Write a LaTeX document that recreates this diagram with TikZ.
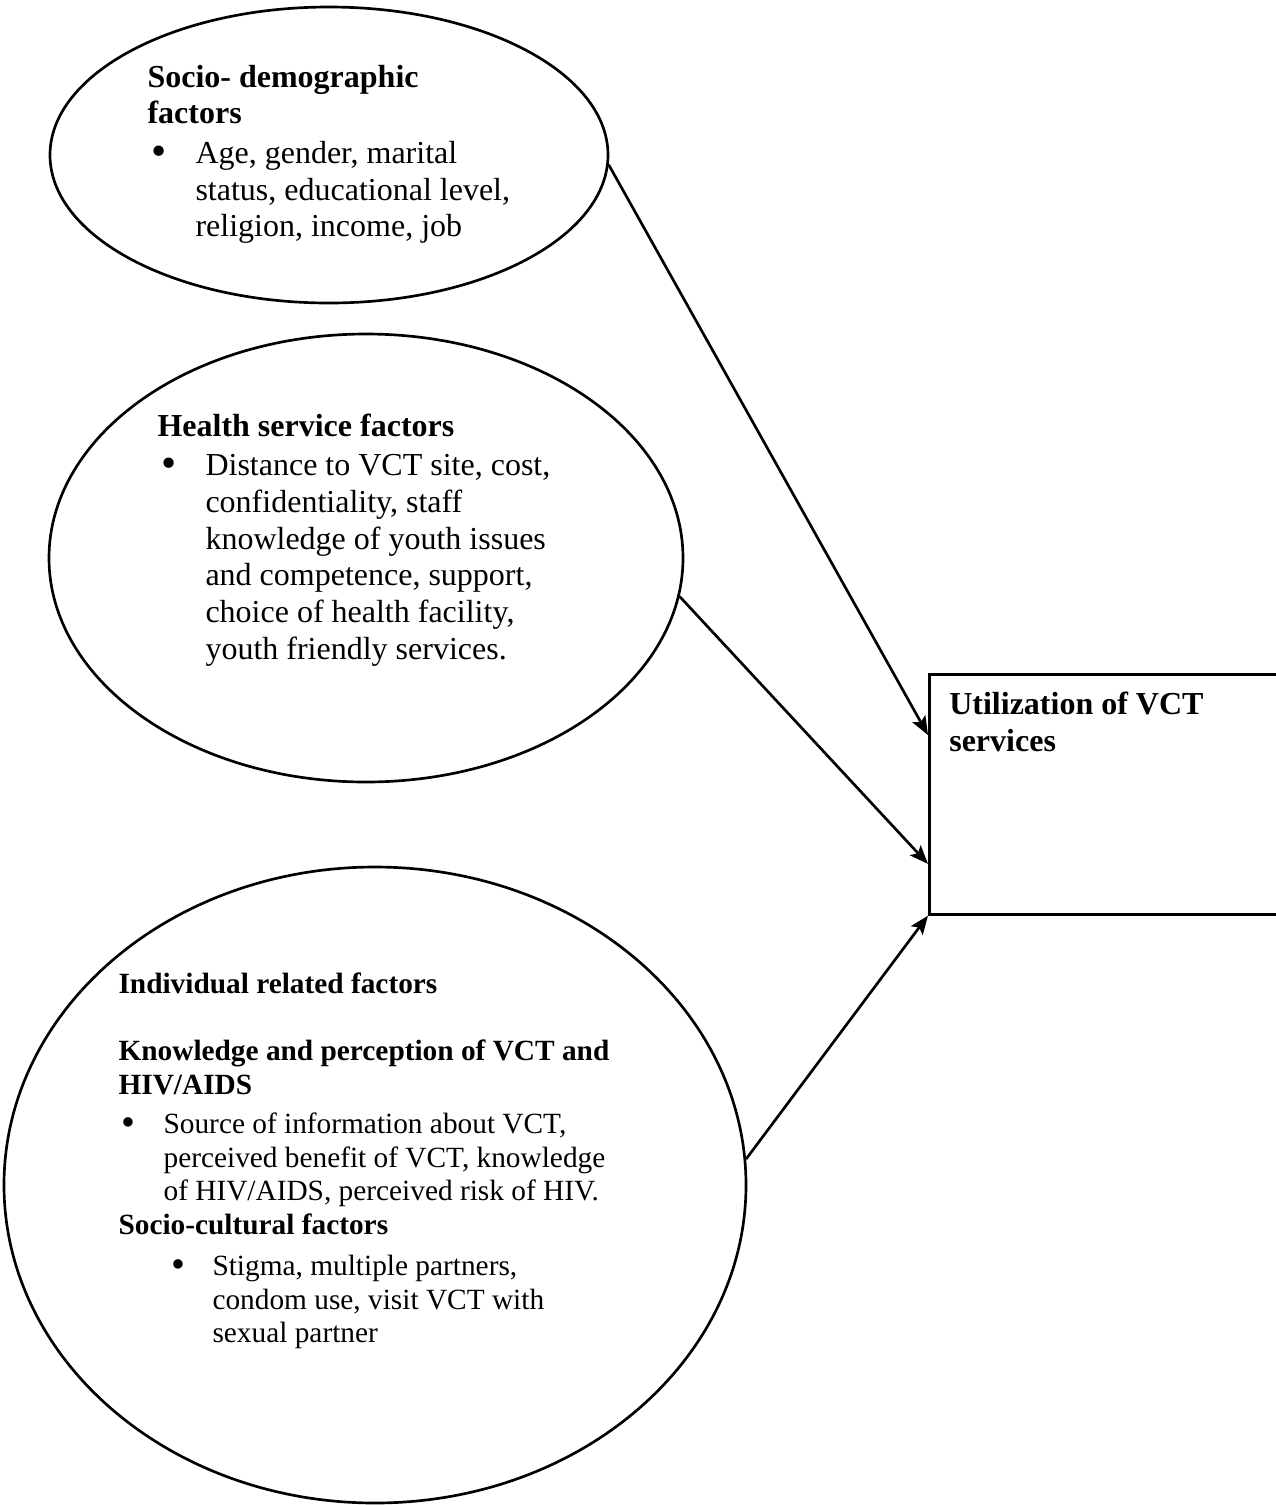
\documentclass[tikz,border=0pt]{standalone}
\usepackage{fontspec}
\setmainfont{Liberation Serif}
\usetikzlibrary{shapes.geometric}
\usetikzlibrary{arrows.meta}

% one bullet row of a list: bullet offset, text offset
\newcommand{\itemrow}[2]{\par\noindent\hangindent=#2\hangafter=1\makebox[#2][l]{\hspace*{#1}\raisebox{-0.15ex}{\scalebox{1.35}{\textbullet}}}}

\tikzset{
    factor/.style={draw, ellipse, line width=1pt, inner sep=0pt},
    outcome/.style={draw, rectangle, line width=1pt, inner xsep=7.5pt, inner ysep=5.34pt, anchor=north west, font=\fontsize{12}{13.8}\selectfont},
    blocktext/.style={anchor=base west, inner sep=0pt, font=\fontsize{12}{13.8}\selectfont},
    smalltext/.style={anchor=base west, inner sep=0pt, font=\fontsize{11}{12.65}\selectfont},
    link/.style={-{Stealth[length=7pt,width=5.5pt,inset=1.5pt]}, line width=1pt}
}

\begin{document}
\begin{tikzpicture}[x={(0.375pt,0)}, y={(0,-0.375pt)}]
    \useasboundingbox (0,0) rectangle (1276,1505);
    \clip (0,0) rectangle (1276,1505);

    % draw ellipses
    \node[factor, minimum width=209.25pt, minimum height=111pt] (socio) at (329,155) {};
    \node[factor, minimum width=237.75pt, minimum height=168pt] (health) at (366,558) {};
    \node[factor, minimum width=278.25pt, minimum height=238.5pt] (indiv) at (375,1185) {};

    % draw outcome box (right side runs off the page)
    \node[outcome] (util) at (928,673) {\begin{minipage}[t][79.3pt][t]{124.5pt}\strut\textbf{Utilization of VCT}\\
        \textbf{services}\end{minipage}};

    % draw texts
    \node[blocktext] (sociotext) at (147,87) {\begin{minipage}[t]{250pt}
        \textbf{Socio- demographic}\\
        \textbf{factors}\par\vspace{1pt}
        \itemrow{1.5pt}{18pt}Age, gender, marital\\
        status, educational level,\\
        religion, income, job
    \end{minipage}};

    \node[blocktext] (healthtext) at (157,436) {\begin{minipage}[t]{250pt}
        \textbf{Health service factors}\par\vspace{1pt}
        \itemrow{1.5pt}{18pt}Distance to VCT site, cost,\\
        confidentiality, staff\\
        knowledge of youth issues\\
        and competence, support,\\
        choice of health facility,\\
        youth friendly services.
    \end{minipage}};

    \node[smalltext] (indivtext) at (118,993) {\begin{minipage}[t]{260pt}
        \textbf{Individual related factors}\par\vspace{12.65pt}
        \textbf{Knowledge and perception of VCT and}\\
        \textbf{HIV/AIDS}\par\vspace{2pt}
        \itemrow{1.1pt}{16.9pt}Source of information about VCT,\\
        perceived benefit of VCT, knowledge\\
        of HIV/AIDS, perceived risk of HIV.\par
        \textbf{Socio-cultural factors}\par\vspace{2.7pt}
        \itemrow{19.9pt}{35.25pt}Stigma, multiple partners,\\
        condom use, visit VCT with\\
        sexual partner
    \end{minipage}};

    % draw arrows
    \draw[link] (socio.-2.5) -- ([yshift=-23.25pt]util.north west);
    \draw[link] (health.-7) -- ([yshift=-71.6pt]util.north west);
    \draw[link] (indiv.4) -- (util.south west);
\end{tikzpicture}
\end{document}
